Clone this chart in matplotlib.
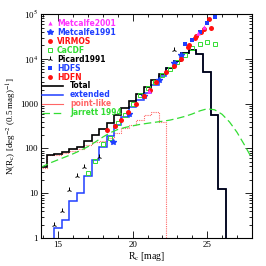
import numpy as np
import matplotlib
matplotlib.use("Agg")
import matplotlib.pyplot as plt
from matplotlib.ticker import FixedLocator, FuncFormatter, LogLocator, NullFormatter
from matplotlib.lines import Line2D

plt.rcParams["mathtext.fontset"] = "stix"

# ---- histogram data (0.5 mag bins, bin centres) ----
total_centres = [14.0, 14.5, 15.0, 15.5, 16.0, 16.5, 17.0, 17.5, 18.0, 18.5, 19.0, 19.5,
                 20.0, 20.5, 21.0, 21.5, 22.0, 22.5, 23.0, 23.5, 24.0, 24.5, 25.0, 25.5, 26.0]
total_counts = [38, 72, 76, 82, 95, 110, 150, 205, 270, 370, 560, 790,
                1150, 1650, 2300, 3300, 4600, 6300, 9000, 13300, 15500, 12600, 5150, 560, 12.4]

ext_centres = [15.0, 15.5, 16.0, 16.5, 17.0, 17.5, 18.0, 18.5, 19.0, 19.5, 20.0, 20.5,
               21.0, 21.5, 22.0, 22.5, 23.0, 23.5, 24.0, 24.5, 25.0, 25.5, 26.0]
ext_counts = [1.7, 2.5, 6.7, 10, 24, 55, 110, 190, 340, 510, 830, 1220,
              1760, 2660, 4200, 6300, 9000, 13300, 15500, 12600, 5150, 560, 12.4]

pt_centres = [14.0, 14.5, 15.0, 15.5, 16.0, 16.5, 17.0, 17.5, 18.0, 18.5, 19.0, 19.5,
              20.0, 20.5, 21.0, 21.5, 22.0]
pt_counts = [37, 70, 73, 78, 86, 98, 120, 140, 150, 175, 220, 280,
             330, 430, 550, 640, 400]

jarrett_mag = [13.85, 14.5, 15.0, 15.5, 16.0, 16.5, 17.0, 17.5, 18.0, 18.5, 19.0, 19.5,
               20.0, 20.5, 21.0, 21.5, 22.0, 22.5, 23.0, 23.5, 24.0, 24.5, 25.0, 25.5,
               26.0, 26.5, 27.0, 27.5, 28.0]
jarrett_n = [38, 48, 56, 65, 76, 90, 110, 140, 180, 225, 265, 295,
             320, 345, 365, 385, 405, 430, 470, 520, 590, 690, 770, 730,
             580, 390, 230, 120, 60]

# ---- literature points ----
metcalfe2001_mag = [21.1, 24.4, 24.8]
metcalfe2001_n = [1900, 37000, 52000]
metcalfe1991_mag = [18.7, 19.75, 20.75, 21.75, 22.75, 23.25]
metcalfe1991_n = [141, 600, 1500, 3400, 8000, 12000]
virmos_mag = [18.25, 18.8, 19.25, 19.7, 20.25, 20.75, 21.15, 21.6, 22.25, 22.75, 23.25, 23.7]
virmos_n = [257, 318, 430, 660, 1000, 1450, 2000, 3100, 5100, 6800, 10000, 18700]
cacdf_mag = [17.0, 17.5, 18.0, 18.5, 19.0, 19.5, 20.0, 20.5, 21.0, 21.5, 22.0, 22.5,
             23.0, 23.5, 24.0, 24.5, 25.0, 25.5]
cacdf_n = [29, 52, 125, 168, 365, 560, 1000, 1550, 2200, 3100, 4300, 5800,
           8500, 12500, 17700, 22000, 24000, 22000]
picard_mag = [14.75, 15.25, 15.75, 16.25, 16.75, 17.75, 22.8]
picard_n = [2.0, 4.0, 12, 24, 39, 64, 15700]
hdfs_mag = [23.5, 24.0, 24.5, 25.0, 25.5]
hdfs_n = [22000, 27000, 40000, 62000, 88000]
hdfn_mag = [23.8, 24.15, 24.25, 24.6, 24.8, 25.15, 25.25]
hdfn_n = [20000, 29000, 32000, 40000, 46000, 77000, 48000]

BIN = 0.5


def edges_from(centres):
    c = np.asarray(centres, dtype=float)
    return np.concatenate([c - BIN / 2, [c[-1] + BIN / 2]])


fig = plt.figure(figsize=(2.66, 2.66), dpi=100)
ax = fig.add_axes([0.154, 0.105, 0.793, 0.842])
ax.set_yscale("log")

jar_col = "#33dd33"
ax.plot(jarrett_mag, jarrett_n, color=jar_col, lw=0.9, ls=(0, (6, 3)))
ax.stairs(pt_counts, edges_from(pt_centres), baseline=1e-3, color="#ff6666",
          lw=0.8, ls=(0, (1, 1)))
ax.stairs(ext_counts, edges_from(ext_centres), baseline=1e-3, color="#1f3fff", lw=1.1)
ax.stairs(total_counts, edges_from(total_centres), baseline=1e-3, color="black", lw=1.2)

ax.plot(cacdf_mag, cacdf_n, ls="none", marker="s", mfc="none", mec=jar_col, mew=0.7, ms=3.2)
ax.plot(picard_mag, picard_n, ls="none", marker="2", color="black", mew=0.7, ms=4)
ax.plot(metcalfe1991_mag, metcalfe1991_n, ls="none", marker="*", color="#1f3fff", ms=4)
ax.plot(virmos_mag, virmos_n, ls="none", marker="o", color="#ff1010", ms=3.6, mew=0)
ax.plot(hdfn_mag, hdfn_n, ls="none", marker="o", color="#ff1010", ms=3.6, mew=0)
ax.plot(hdfs_mag, hdfs_n, ls="none", marker="s", color="#1f3fff", ms=2.8, mew=0)
ax.plot(metcalfe2001_mag, metcalfe2001_n, ls="none", marker="^", color="#ff33ff", ms=3.2, mew=0)

ax.set_xlim(13.85, 28.0)
ax.set_ylim(1, 1e5)

serif = "Liberation Serif"
ax.xaxis.set_major_locator(FixedLocator([15, 20, 25]))
ax.xaxis.set_minor_locator(FixedLocator(np.arange(14, 29, 1)))
ax.yaxis.set_major_locator(LogLocator(base=10, numticks=10))
ax.yaxis.set_minor_locator(LogLocator(base=10, subs=np.arange(2, 10), numticks=20))
ax.yaxis.set_minor_formatter(NullFormatter())


def yfmt(v, pos):
    if v <= 1000:
        return "%d" % round(v)
    return r"10$^{%d}$" % round(np.log10(v))


ax.yaxis.set_major_formatter(FuncFormatter(yfmt))
ax.tick_params(which="both", direction="in", top=True, right=True, width=0.6)
ax.tick_params(which="major", length=5, labelsize=6.5, pad=2)
ax.tick_params(which="minor", length=2.5)
for lab in ax.get_xticklabels() + ax.get_yticklabels():
    lab.set_fontfamily(serif)
for s in ax.spines.values():
    s.set_linewidth(0.8)

ax.set_xlabel(r"R$_{\rm c}$ [mag]", fontfamily=serif, fontsize=7, labelpad=1)
ax.set_ylabel(r"N(R$_{\rm c}$) [deg$^{-2}$ (0.5 mag)$^{-1}$]", fontfamily=serif,
              fontsize=6.5, labelpad=1)

# legends
lfont = {"size": 5.5, "weight": "bold"}
h1 = [Line2D([], [], ls="none", marker="^", color="#ff33ff", ms=3, mew=0),
      Line2D([], [], ls="none", marker="*", color="#1f3fff", ms=4),
      Line2D([], [], ls="none", marker="o", color="#ff1010", ms=3.5, mew=0),
      Line2D([], [], ls="none", marker="s", mfc="none", mec=jar_col, mew=0.7, ms=3),
      Line2D([], [], ls="none", marker="2", color="black", mew=0.7, ms=4),
      Line2D([], [], ls="none", marker="s", color="#1f3fff", ms=2.8, mew=0),
      Line2D([], [], ls="none", marker="o", color="#ff1010", ms=3.5, mew=0)]
l1 = ["Metcalfe2001", "Metcalfe1991", "VIRMOS", "CaCDF", "Picard1991", "HDFS", "HDFN"]
c1 = ["#ff33ff", "#1f3fff", "#ff1010", jar_col, "black", "#1f3fff", "#ff1010"]
leg1 = ax.legend(h1, l1, loc="upper left", bbox_to_anchor=(0.026, 0.978), frameon=False,
                 prop=lfont, handlelength=0.8, handletextpad=0.57, labelspacing=0.0,
                 borderaxespad=0.0, borderpad=0.0)
for t, c in zip(leg1.get_texts(), c1):
    t.set_color(c)
ax.add_artist(leg1)

h2 = [Line2D([], [], color="black", lw=1.2),
      Line2D([], [], color="#1f3fff", lw=1.1),
      Line2D([], [], color="#ff6666", lw=0.8),
      Line2D([], [], color=jar_col, lw=0.9, ls=(0, (6, 3)))]
l2 = ["Total", "extended", "point-like", "Jarrett 1994"]
c2 = ["black", "#1f3fff", "#ff6666", jar_col]
leg2 = ax.legend(h2, l2, loc="upper left", bbox_to_anchor=(0.005, 0.70), frameon=False,
                 prop=lfont, handlelength=2.75, handletextpad=0.9, labelspacing=0.0,
                 borderaxespad=0.0, borderpad=0.0)
for t, c in zip(leg2.get_texts(), c2):
    t.set_color(c)

fig.savefig("out.png", dpi=100)
